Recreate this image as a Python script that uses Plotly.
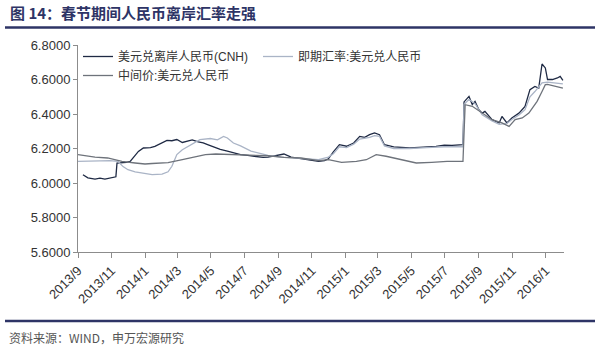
import plotly.graph_objects as go

title_text = "图 14：春节期间人民币离岸汇率走强"
source_text = "资料来源：WIND，申万宏源研究"

names = ["美元兑离岸人民币(CNH)", "即期汇率:美元兑人民币", "中间价:美元兑人民币"]

cnh_dates = ["2013-09-10", "2013-09-19", "2013-10-02", "2013-10-11", "2013-10-20", "2013-10-29", "2013-11-09",
             "2013-11-11", "2013-11-20", "2013-11-28", "2013-12-05", "2013-12-14", "2013-12-20", "2013-12-29",
             "2014-01-11", "2014-01-19", "2014-01-28", "2014-02-10", "2014-02-19", "2014-02-28", "2014-03-10",
             "2014-03-19", "2014-03-28", "2014-04-08", "2014-04-17", "2014-04-25", "2014-05-05", "2014-05-18",
             "2014-05-31", "2014-06-11", "2014-06-24", "2014-07-07", "2014-07-22", "2014-08-04", "2014-08-13",
             "2014-08-28", "2014-09-11", "2014-09-24", "2014-10-12", "2014-10-31", "2014-11-13", "2014-11-24",
             "2014-12-01", "2014-12-10", "2014-12-21", "2015-01-03", "2015-01-16", "2015-01-27", "2015-02-05",
             "2015-02-14", "2015-02-23", "2015-03-04", "2015-03-13", "2015-03-30", "2015-04-13", "2015-04-28",
             "2015-05-15", "2015-05-29", "2015-06-15", "2015-06-30", "2015-07-14", "2015-08-03", "2015-08-05",
             "2015-08-14", "2015-08-20", "2015-08-25", "2015-09-01", "2015-09-07", "2015-09-12", "2015-09-25",
             "2015-10-08", "2015-10-13", "2015-10-22", "2015-10-31", "2015-11-13", "2015-11-24", "2015-12-03",
             "2015-12-12", "2015-12-19", "2015-12-25", "2015-12-31", "2016-01-04", "2016-01-13", "2016-01-22",
             "2016-01-27", "2016-02-01"]
cnh_values = [6.048, 6.030, 6.023, 6.028, 6.022, 6.030, 6.036,
              6.115, 6.117, 6.120, 6.125, 6.160, 6.183, 6.203,
              6.205, 6.212, 6.225, 6.247, 6.245, 6.252, 6.235,
              6.242, 6.250, 6.238, 6.232, 6.222, 6.210, 6.195,
              6.185, 6.174, 6.165, 6.160, 6.154, 6.148, 6.150,
              6.160, 6.168, 6.150, 6.140, 6.132, 6.125, 6.130,
              6.140, 6.180, 6.222, 6.213, 6.232, 6.270, 6.265,
              6.280, 6.290, 6.280, 6.222, 6.209, 6.205, 6.203,
              6.207, 6.209, 6.212, 6.220, 6.218, 6.222, 6.470,
              6.502, 6.455, 6.473, 6.425, 6.405, 6.415, 6.367,
              6.348, 6.386, 6.348, 6.377, 6.405, 6.444, 6.541,
              6.560, 6.550, 6.690, 6.667, 6.600, 6.600, 6.609,
              6.618, 6.595]

spot_dates = ["2013-09-01", "2013-09-23", "2013-10-11", "2013-10-29", "2013-11-13", "2013-11-22", "2013-12-01",
              "2013-12-14", "2013-12-27", "2014-01-14", "2014-02-01", "2014-02-12", "2014-02-19", "2014-02-28",
              "2014-03-10", "2014-03-28", "2014-04-11", "2014-04-30", "2014-05-13", "2014-05-24", "2014-05-31",
              "2014-06-11", "2014-06-24", "2014-07-13", "2014-07-31", "2014-08-13", "2014-09-06", "2014-10-12",
              "2014-11-13", "2014-12-01", "2014-12-10", "2014-12-21", "2015-01-03", "2015-01-16", "2015-01-27",
              "2015-02-14", "2015-02-23", "2015-03-04", "2015-03-13", "2015-03-30", "2015-04-28", "2015-05-29",
              "2015-06-30", "2015-08-03", "2015-08-05", "2015-08-14", "2015-08-25", "2015-09-07", "2015-09-25",
              "2015-10-08", "2015-10-22", "2015-10-31", "2015-11-13", "2015-11-24", "2015-12-03", "2015-12-12",
              "2015-12-25", "2016-01-04", "2016-01-22", "2016-02-01"]
spot_values = [6.125, 6.125, 6.128, 6.130, 6.125, 6.095, 6.077,
               6.065, 6.058, 6.048, 6.052, 6.065, 6.097, 6.165,
               6.193, 6.225, 6.251, 6.258, 6.250, 6.270, 6.261,
               6.232, 6.215, 6.185, 6.170, 6.160, 6.150, 6.142,
               6.135, 6.150, 6.170, 6.210, 6.205, 6.225, 6.255,
               6.265, 6.275, 6.270, 6.215, 6.200, 6.200, 6.205,
               6.210, 6.210, 6.455, 6.485, 6.460, 6.395, 6.360,
               6.340, 6.345, 6.368, 6.395, 6.425, 6.500, 6.530,
               6.580, 6.585, 6.580, 6.575]

mid_dates = ["2013-09-01", "2013-10-02", "2013-10-25", "2013-11-20", "2013-12-14", "2014-01-01", "2014-01-14",
             "2014-02-12", "2014-03-10", "2014-04-03", "2014-04-21", "2014-05-10", "2014-06-11", "2014-07-13",
             "2014-08-13", "2014-09-11", "2014-10-12", "2014-11-13", "2014-12-01", "2014-12-25", "2015-01-21",
             "2015-02-08", "2015-02-26", "2015-03-16", "2015-04-13", "2015-05-10", "2015-06-07", "2015-07-05",
             "2015-08-03", "2015-08-07", "2015-08-20", "2015-09-07", "2015-09-25", "2015-10-13", "2015-10-26",
             "2015-11-06", "2015-11-19", "2015-12-01", "2015-12-07", "2015-12-16", "2015-12-25", "2015-12-31",
             "2016-01-04", "2016-01-13", "2016-02-01"]
mid_values = [6.164, 6.150, 6.145, 6.125, 6.116, 6.110, 6.113,
              6.118, 6.135, 6.154, 6.164, 6.168, 6.164, 6.163,
              6.158, 6.148, 6.145, 6.130, 6.135, 6.120, 6.125,
              6.135, 6.164, 6.155, 6.135, 6.116, 6.120, 6.125,
              6.125, 6.454, 6.445, 6.405, 6.367, 6.348, 6.328,
              6.367, 6.377, 6.405, 6.432, 6.473, 6.530, 6.570,
              6.572, 6.565, 6.550]

y_ticks = [5.6, 5.8, 6.0, 6.2, 6.4, 6.6, 6.8]

navy = "#2e3466"
font_family = "Liberation Sans, Arial, Noto Sans CJK SC, sans-serif"

fig = go.Figure()
fig.add_trace(go.Scatter(x=cnh_dates, y=cnh_values, mode="lines", name=names[0],
                         line=dict(color="#1f2a44", width=1.3)))
fig.add_trace(go.Scatter(x=spot_dates, y=spot_values, mode="lines", name=names[1],
                         line=dict(color="#aab4c6", width=1.3)))
fig.add_trace(go.Scatter(x=mid_dates, y=mid_values, mode="lines", name=names[2],
                         line=dict(color="#6e737b", width=1.3)))

fig.update_layout(
    width=600, height=352,
    margin=dict(l=78, r=36, t=45, b=100),
    paper_bgcolor="white", plot_bgcolor="white",
    font=dict(family=font_family, size=12, color="#333333"),
    showlegend=True,
    legend=dict(orientation="h", x=0.0, y=1.0 + 3/207, xanchor="left", yanchor="top",
                entrywidth=135, entrywidthmode="pixels", itemwidth=30,
                font=dict(size=12, color="#333333"), bgcolor="rgba(0,0,0,0)",
                tracegroupgap=0),
    xaxis=dict(type="date", range=["2013-09-01", "2016-02-03"],
               tickformat="%Y/%-m", dtick="M2", tick0="2013-09-01",
               tickangle=-45, showgrid=False, zeroline=False,
               showline=True, linecolor="#8c8c8c", linewidth=1,
               ticks="outside", ticklen=5, tickcolor="#8c8c8c",
               tickfont=dict(size=13, color="#333333")),
    yaxis=dict(range=[5.6, 6.8], tickvals=y_ticks, tickformat=".4f",
               showgrid=False, zeroline=False,
               showline=True, linecolor="#8c8c8c", linewidth=1,
               ticks="outside", ticklen=4, tickcolor="#8c8c8c",
               tickfont=dict(size=13, color="#333333")),
)

fig.add_annotation(text="<b>" + title_text + "</b>", xref="paper", yref="paper",
                   x=-78/486 + 8/486, y=1 + (45 - 13) / 207, xanchor="left", yanchor="middle",
                   showarrow=False, font=dict(size=15, color=navy, family="Noto Sans CJK SC, sans-serif"))
fig.add_annotation(text=source_text, xref="paper", yref="paper",
                   x=-78/486 + 7/486, y=-(337 - 252) / 207, xanchor="left", yanchor="middle",
                   showarrow=False, font=dict(size=12, color="#555555", family="Noto Sans CJK SC, sans-serif"))

fig.add_shape(type="line", xref="paper", yref="paper",
              x0=-73/486, x1=(595 - 78)/486, y0=1 + (45 - 27.5)/207, y1=1 + (45 - 27.5)/207,
              line=dict(color=navy, width=2.5))
fig.add_shape(type="line", xref="paper", yref="paper",
              x0=-73/486, x1=(595 - 78)/486, y0=-(321 - 252)/207, y1=-(321 - 252)/207,
              line=dict(color=navy, width=2.5))

fig.write_html("out.html")
